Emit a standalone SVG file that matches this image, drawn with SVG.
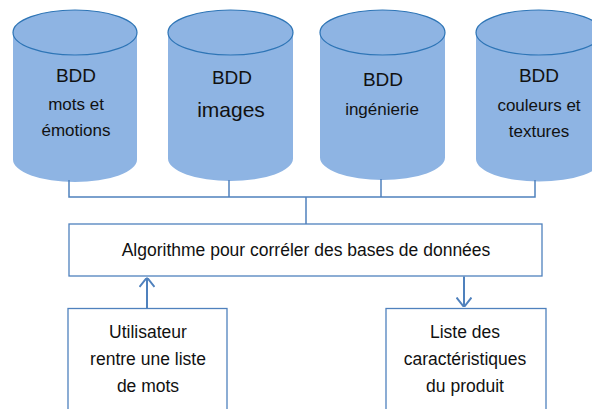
<svg xmlns="http://www.w3.org/2000/svg" width="592" height="409" viewBox="0 0 592 409">
  <style>
    .body { fill: #8EB4E3; stroke: none; }
    .top { fill: #8EB4E3; stroke: #2E75B6; stroke-width: 1.2; }
    .box { fill: #FFFFFF; stroke: #4F81BD; stroke-width: 1.3; }
    .conn { fill: none; stroke: #4F81BD; stroke-width: 1.5; }
    .arrow { fill: none; stroke: #4F81BD; stroke-width: 2; }
    text { font-family: "Liberation Sans", Arial, sans-serif; fill: #111111; text-anchor: middle; }
    .big { font-size: 19px; }
    .sub { font-size: 17px; }
    .img { font-size: 21px; }
    .lbl { font-size: 17.5px; }
  </style>
  <defs>
    <marker id="open" viewBox="0 0 10 16" refX="10" refY="8" markerWidth="10" markerHeight="16" markerUnits="userSpaceOnUse" orient="auto">
      <path d="M0.5,0.5 L10,8 L0.5,15.5" fill="none" stroke="#4F81BD" stroke-width="2"/>
    </marker>
  </defs>

  <g id="db-mots">
    <path class="body" d="M13,32.5 L13,159.5 A62,22.5 0 0 0 137,159.5 L137,32.5 Z"/>
    <ellipse class="top" cx="75" cy="32.5" rx="62" ry="22.5"/>
    <text class="big" x="76" y="82">BDD</text>
    <text class="sub" x="76" y="110">mots et</text>
    <text class="sub" x="76" y="136">émotions</text>
  </g>

  <g id="db-images">
    <path class="body" d="M168,32.5 L168,158.5 A62.5,22.5 0 0 0 293,158.5 L293,32.5 Z"/>
    <ellipse class="top" cx="230.5" cy="32.5" rx="62.5" ry="22.5"/>
    <text class="big" x="232" y="84">BDD</text>
    <text class="img" x="231" y="117">images</text>
  </g>

  <g id="db-ingenierie">
    <path class="body" d="M320,32.5 L320,157.5 A62.5,22.5 0 0 0 445,157.5 L445,32.5 Z"/>
    <ellipse class="top" cx="382.5" cy="32.5" rx="62.5" ry="22.5"/>
    <text class="big" x="383" y="86">BDD</text>
    <text class="sub" x="382" y="115">ingénierie</text>
  </g>

  <g id="db-couleurs">
    <path class="body" d="M476,32.5 L476,159 A63,22.5 0 0 0 602,159 L602,32.5 Z"/>
    <ellipse class="top" cx="539" cy="32.5" rx="63" ry="22.5"/>
    <text class="big" x="539" y="82">BDD</text>
    <text class="sub" x="539" y="111">couleurs et</text>
    <text class="sub" x="539" y="137">textures</text>
  </g>

  <g id="algo">
    <rect class="box" x="69" y="224" width="473" height="52"/>
    <text class="lbl" x="306" y="256">Algorithme pour corréler des bases de données</text>
  </g>

  <g id="utilisateur">
    <rect class="box" x="68" y="308.5" width="159" height="110"/>
    <text class="lbl" x="148" y="338">Utilisateur</text>
    <text class="lbl" x="148" y="365">rentre une liste</text>
    <text class="lbl" x="148" y="392">de mots</text>
  </g>

  <g id="liste">
    <rect class="box" x="386" y="308.5" width="160" height="110"/>
    <text class="lbl" x="465" y="338">Liste des</text>
    <text class="lbl" x="465" y="365">caractéristiques</text>
    <text class="lbl" x="465" y="392">du produit</text>
  </g>

  <g id="connectors">
    <path class="conn" d="M69,180 L69,197 L535,197 L535,180"/>
    <path class="conn" d="M229,180 L229,197"/>
    <path class="conn" d="M381,179 L381,197"/>
    <path class="conn" d="M306,197 L306,224"/>
    <path class="arrow" d="M147,308 L147,277.5" marker-end="url(#open)"/>
    <path class="arrow" d="M464,276.5 L464,307" marker-end="url(#open)"/>
  </g>
</svg>
